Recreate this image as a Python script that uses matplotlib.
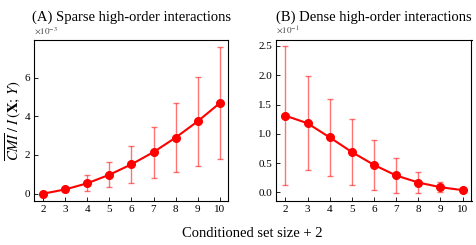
import matplotlib
matplotlib.use("Agg")
import matplotlib.pyplot as plt
import numpy as np

plt.rcParams['font.family'] = ['Liberation Serif', 'DejaVu Serif']
plt.rcParams['mathtext.fontset'] = 'stix'

sizes = [2, 3, 4, 5, 6, 7, 8, 9, 10]
sparse_mean = [0.0, 0.22, 0.54, 0.98, 1.52, 2.15, 2.90, 3.74, 4.68]
sparse_err = [0.02, 0.15, 0.40, 0.65, 0.95, 1.32, 1.77, 2.30, 2.90]
dense_mean = [1.31, 1.18, 0.94, 0.69, 0.47, 0.29, 0.17, 0.09, 0.04]
dense_err = [1.18, 0.80, 0.66, 0.56, 0.43, 0.30, 0.18, 0.09, 0.04]

titles = ["(A) Sparse high-order interactions", "(B) Dense high-order interactions"]
scales = [1e-3, 1e-1]
exps = ["-3", "-1"]

fig = plt.figure(figsize=(4.77, 2.45), dpi=100)
axA = fig.add_axes([34.5/477, 1-201/245, 194/477, 161/245])
axB = fig.add_axes([276.5/477, 1-201/245, 195/477, 161/245])

for ax, m, e, t, s, ex in zip([axA, axB], [sparse_mean, dense_mean], [sparse_err, dense_err], titles, scales, exps):
    m = np.array(m); e = np.array(e)
    ax.errorbar(sizes, m, yerr=e, fmt='none', ecolor=(1, 0, 0, 0.55), elinewidth=1.0, capsize=2, capthick=1.0)
    ax.plot(sizes, m, '-o', color='red', lw=1.5, ms=5.5)
    ax.set_xlim(1.6, 10.4)
    ax.set_xticks(sizes)
    ax.tick_params(direction='in', labelsize=8, length=3, width=0.6, pad=3)
    for sp in ax.spines.values():
        sp.set_linewidth(0.8)
    ax.set_title(t, fontsize=10.5, pad=14)
    ax.text(0.0, 1.025, r'$\times10^{%s}$' % ex, transform=ax.transAxes, fontsize=6.5, color='#444444', ha='left', va='bottom')

axA.set_ylim(-0.38, 7.95)
axA.set_yticks([0, 2, 4, 6])
axB.set_ylim(-0.145, 2.6)
axB.set_yticks([0.0, 0.5, 1.0, 1.5, 2.0, 2.5])
axB.set_yticklabels(['0.0', '0.5', '1.0', '1.5', '2.0', '2.5'])

axA.set_ylabel(r'$\overline{CMI}\;/\;I\,(\mathbf{X};\,Y)$', fontsize=10.5, va='center')
axA.yaxis.set_label_coords((13 - 34.5) / 194, 0.5)
fig.text(252/477, 1-233/245, 'Conditioned set size + 2', ha='center', va='center', fontsize=10.5)

fig.savefig('out.png', dpi=100)
